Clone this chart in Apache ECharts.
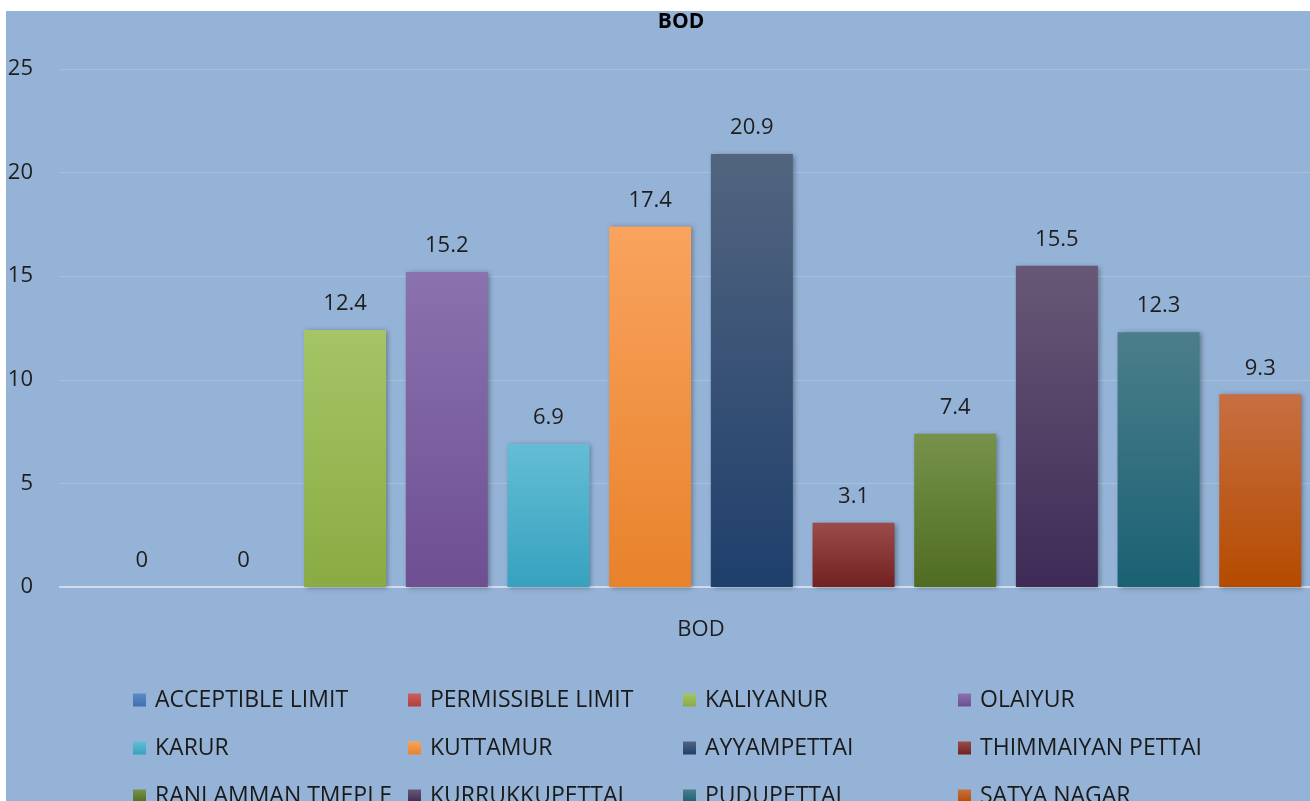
<!DOCTYPE html>
<html>
<head>
<meta charset="utf-8">
<script src="https://cdn.jsdelivr.net/npm/echarts@6/dist/echarts.min.js"></script>
<style>
html,body{margin:0;padding:0;background:#fff;width:1310px;height:801px;overflow:hidden;position:relative;}
#bg{position:absolute;left:6px;top:11px;width:1340px;bottom:0;background:#95b3d7;}
#chart{position:absolute;left:0;top:0;width:1346px;height:801px;}
</style>
</head>
<body>
<div id="bg"></div>
<div id="chart"></div>
<script>
const categories = ['BOD'];
const seriesNames = ['ACCEPTIBLE LIMIT','PERMISSIBLE LIMIT','KALIYANUR','OLAIYUR','KARUR','KUTTAMUR','AYYAMPETTAI','THIMMAIYAN PETTAI','RANI AMMAN TMEPLE','KURRUKKUPETTAI','PUDUPETTAI','SATYA NAGAR'];
const seriesValues = [0, 0, 12.4, 15.2, 6.9, 17.4, 20.9, 3.1, 7.4, 15.5, 12.3, 9.3];
const yTicks = [0, 5, 10, 15, 20, 25];
const topColors = ['#5b8ac6','#cc5e5b','#a5c566','#8a72ae','#64bdd4','#f9a35e','#52657f','#9a4c4b','#77934b','#685876','#4b7e8a','#c76f42'];
const bottomColors = ['#3f70ad','#b2403c','#8aab43','#6e4f92','#36a2bf','#e8822b','#1f3f6c','#712120','#4f6c22','#3e2b57','#1a6174','#b54b00'];

const FONT = '"Open Sans", sans-serif';
const chart = echarts.init(document.getElementById('chart'), null, {renderer:'canvas'});

const series = seriesNames.map((name, i) => ({
  name: name,
  type: 'bar',
  data: [seriesValues[i]],
  barWidth: 82,
  barGap: '24%',
  itemStyle: {
    color: new echarts.graphic.LinearGradient(0, 0, 0, 1, [
      {offset: 0, color: topColors[i]},
      {offset: 1, color: bottomColors[i]}
    ]),
    shadowColor: 'rgba(0,0,0,0.35)',
    shadowBlur: 5,
    shadowOffsetX: 2,
    shadowOffsetY: 1
  },
  label: {
    show: true,
    position: 'top',
    distance: 15,
    fontFamily: FONT,
    fontSize: 22,
    color: '#1e1e1e'
  }
}));

chart.setOption({
  backgroundColor: 'transparent',
  animation: false,
  title: {
    text: 'BOD',
    left: 676,
    textAlign: 'center',
    top: 7,
    textStyle: {fontFamily: FONT, fontSize: 21, fontWeight: 'bold', color: '#000'}
  },
  grid: {left: 60, right: 4, top: 69, bottom: 214, containLabel: false},
  xAxis: {
    type: 'category',
    data: categories,
    axisLine: {show: true, lineStyle: {color: '#d0dcec', width: 2}},
    axisTick: {show: false},
    axisLabel: {fontFamily: FONT, fontSize: 22, color: '#1e1e1e', margin: 32}
  },
  yAxis: {
    type: 'value',
    min: yTicks[0],
    max: yTicks[yTicks.length - 1],
    interval: yTicks[1] - yTicks[0],
    axisLine: {show: false},
    axisTick: {show: false},
    splitLine: {lineStyle: {color: '#a6c0e0', width: 1}},
    axisLabel: {fontFamily: FONT, fontSize: 22, color: '#1e1e1e', margin: 27}
  },
  legend: {
    data: seriesNames,
    orient: 'horizontal',
    left: 133,
    top: 676,
    width: 1120,
    itemWidth: 13,
    itemHeight: 13,
    itemGap: 0,
    icon: 'rect',
    textStyle: {fontFamily: FONT, fontSize: 23, color: '#1a1a1a', width: 253, lineHeight: 48, overflow: 'none', padding: [0,0,0,4]},
    padding: 0
  },
  series: series
});
</script>
</body>
</html>
